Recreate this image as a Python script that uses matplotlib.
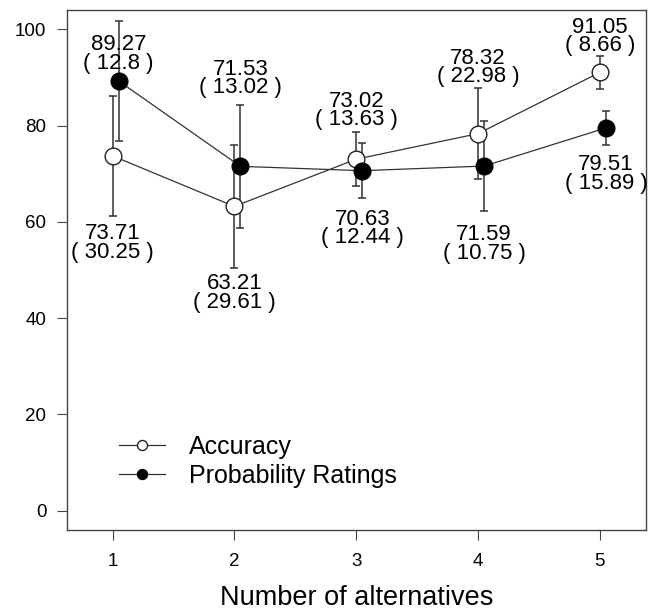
import numpy as np
import matplotlib
matplotlib.use('Agg')
import matplotlib.pyplot as plt

plt.rcParams['font.family'] = ['Liberation Sans', 'DejaVu Sans']

# data
n_alt = [1, 2, 3, 4, 5]
acc_mean = [73.71, 63.21, 73.02, 78.32, 91.05]
acc_sd = [30.25, 29.61, 13.63, 22.98, 8.66]
acc_err = [12.5, 12.8, 5.6, 9.4, 3.5]
prob_mean = [89.27, 71.53, 70.63, 71.59, 79.51]
prob_sd = [12.8, 13.02, 12.44, 10.75, 15.89]
prob_err = [12.5, 12.8, 5.7, 9.4, 3.5]

# where the mean/sd labels sit (y, data units)
acc_lab_y = [55.6, 45.2, 83.1, 92.1, 98.5]
prob_lab_y = [94.9, 89.8, 58.6, 55.4, 70.0]

DODGE = 0.05
LC = '#333333'

x = np.array(n_alt, dtype=float)
xp = x + DODGE

fig = plt.figure(figsize=(6.5, 6.11), dpi=100)
ax = fig.add_axes([0.1026, 0.1326, 0.8908, 0.851])

ax.errorbar(x, acc_mean, yerr=acc_err, fmt='none', ecolor=LC, elinewidth=1.1,
            capsize=2.8, capthick=1.1, zorder=1)
ax.errorbar(xp, prob_mean, yerr=prob_err, fmt='none', ecolor=LC, elinewidth=1.1,
            capsize=2.8, capthick=1.1, zorder=1)
ax.plot(x, acc_mean, '-o', color=LC, lw=0.9, ms=12, mfc='white', mec='#222222',
        mew=1.0, label='Accuracy', zorder=3)
ax.plot(xp, prob_mean, '-o', color=LC, lw=0.9, ms=12, mfc='black', mec='black',
        label='Probability Ratings', zorder=3)

for xi, m, s, ly in zip(x, acc_mean, acc_sd, acc_lab_y):
    ax.text(xi, ly, f"{m:g}\n( {s:g} )", ha='center', va='center',
            fontsize=16, linespacing=0.85)
for xi, m, s, ly in zip(xp, prob_mean, prob_sd, prob_lab_y):
    ax.text(xi, ly, f"{m:g}\n( {s:g} )", ha='center', va='center',
            fontsize=16, linespacing=0.85)

ax.set_xlim(0.624, 5.376)
ax.set_ylim(-4, 104)
ax.set_xticks(n_alt)
ax.set_yticks([0, 20, 40, 60, 80, 100])
ax.tick_params(axis='both', length=7.2, width=0.8, color='#444444', labelsize=13.5)
ax.tick_params(axis='x', pad=9.5)
ax.tick_params(axis='y', pad=7.5)
for sp in ax.spines.values():
    sp.set_color('#444444'); sp.set_linewidth(1.0)
ax.set_xlabel('Number of alternatives', fontsize=19.5, labelpad=10.5)

ax.legend(loc='center left', bbox_to_anchor=(0.09, 0.132), frameon=False,
          fontsize=18, handlelength=1.85, handletextpad=0.95, labelspacing=0.2,
          borderpad=0, borderaxespad=0, markerscale=0.6)

fig.savefig('out.png', dpi=100)
